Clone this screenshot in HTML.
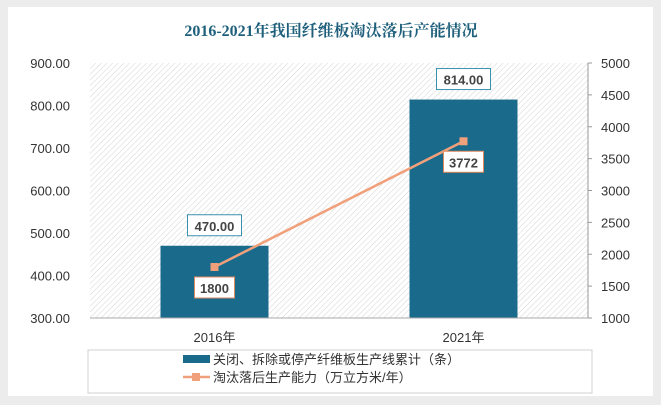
<!DOCTYPE html>
<html><head><meta charset="utf-8"><style>
body{margin:0;width:661px;height:400px;background:#ececec;font-family:"Liberation Sans","Noto Sans CJK SC",sans-serif;overflow:hidden}
</style></head><body>
<svg width="661" height="400" xmlns="http://www.w3.org/2000/svg">
<defs>
<pattern id="hatch" width="4" height="4" patternUnits="userSpaceOnUse" patternTransform="rotate(45)">
<rect width="4" height="4" fill="#fff"/><line x1="0" y1="0" x2="0" y2="4" stroke="#d4d4d4" stroke-width="1"/>
</pattern>
</defs>
<rect x="8" y="7" width="645" height="389" fill="#fff"/>
<text x="331" y="36" text-anchor="middle" font-family="'Liberation Serif','Noto Serif CJK SC',serif" font-weight="bold" font-size="16" fill="#1e5f7c">2016-2021年我国纤维板淘汰落后产能情况</text>
<rect x="90" y="63" width="498" height="255" fill="url(#hatch)"/>
<g id="g"></g>
<rect x="88" y="350" width="504" height="43" fill="#fff" stroke="#d0d0d0"/>
<rect x="183" y="355" width="27" height="8" fill="#1a6a8c"/>
<text x="213" y="364" font-size="13" fill="#333">关闭、拆除或停产纤维板生产线累计（条）</text>
<line x1="183" y1="377" x2="210" y2="377" stroke="#f0a07a" stroke-width="2.5"/>
<rect x="192" y="373" width="8" height="8" fill="#f0a07a"/>
<text x="213" y="382" font-size="13" fill="#333">淘汰落后生产能力（万立方米/年）</text>
</svg>
<script>
const categories=["2016年","2021年"];
const barValues=[470,814];
const lineValues=[1800,3772];
const leftTicks=[300,400,500,600,700,800,900];
const rightTicks=[1000,1500,2000,2500,3000,3500,4000,4500,5000];
const X0=90,X1=588,Y0=318,Y1=63;
const yL=v=>Y0-(v-300)/600*(Y0-Y1);
const yR=v=>Y0-(v-1000)/4000*(Y0-Y1);
const xC=i=>X0+(i+0.5)*(X1-X0)/categories.length;
const g=document.getElementById('g');const NS="http://www.w3.org/2000/svg";
function mk(t,a,txt){const e=document.createElementNS(NS,t);for(const k in a)e.setAttribute(k,a[k]);if(txt!=null)e.textContent=txt;g.appendChild(e);return e;}
leftTicks.forEach(v=>{const e=mk('text',{x:70,y:yL(v)+5,'text-anchor':'end','font-size':13,fill:'#333'},v.toFixed(2));

});
const ax=mk('line',{x1:X1,y1:Y1,x2:X1,y2:Y0,stroke:'#999'});


rightTicks.forEach(v=>{const y=yR(v);mk('line',{x1:X1,y1:y,x2:X1+4,y2:y,stroke:'#999'});
const e=mk('text',{x:601,y:y+5,'font-size':13,fill:'#333'},v);

});
const bw=108;
categories.forEach((c,i)=>{const x=xC(i),y=yL(barValues[i]);
const b=mk('rect',{x:x-bw/2,y:y,width:bw,height:Y0-y,fill:'#1a6a8c'});


const lb=mk('rect',{x:x-27,y:y-31,width:54,height:21,fill:'#fff',stroke:'#3a8fb0'});


const lt=mk('text',{x:x,y:y-15,'text-anchor':'middle','font-size':13,'font-weight':'bold',fill:'#444'},barValues[i].toFixed(2));


const xl=mk('text',{x:x,y:342,'text-anchor':'middle','font-size':13,fill:'#333'},c);

});
const axb=mk('line',{x1:X0,y1:Y0,x2:X1,y2:Y0,stroke:'#aaa'});


const pl=mk('polyline',{points:categories.map((c,i)=>xC(i)+','+yR(lineValues[i])).join(' '),fill:'none',stroke:'#f0a07a','stroke-width':2.5});


categories.forEach((c,i)=>{const x=xC(i),y=yR(lineValues[i]);
const m=mk('rect',{x:x-4,y:y-4,width:8,height:8,fill:'#f0a07a'});


const lb=mk('rect',{x:x-20,y:y+10,width:40,height:21,fill:'#fff',stroke:'#e08a60'});


const t=mk('text',{x:x,y:y+26,'text-anchor':'middle','font-size':13,'font-weight':'bold',fill:'#444'},lineValues[i]);

});
</script>
</body></html>
